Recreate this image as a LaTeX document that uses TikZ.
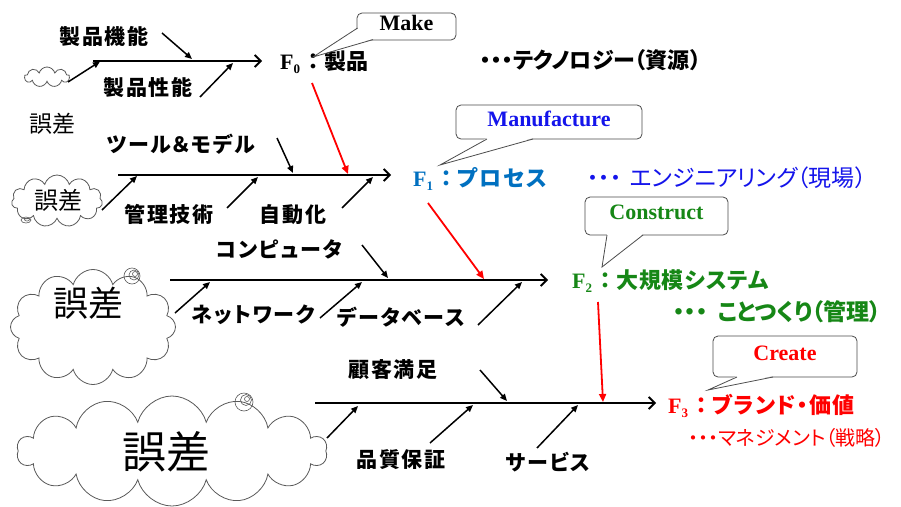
\documentclass[tikz,border=0pt]{standalone}
\usepackage{fontspec}
\setmainfont{Liberation Serif}
\newfontfamily\jp[RawFeature=+palt]{Noto Sans CJK JP}
\newfontfamily\jpn{Noto Sans CJK JP}
\usetikzlibrary{arrows.meta,shapes.symbols}
\definecolor{fblue}{RGB}{0,112,192}
\definecolor{dblue}{RGB}{20,20,235}
\definecolor{fgreen}{RGB}{22,135,22}
\definecolor{fred}{RGB}{255,0,0}
\definecolor{cloudgray}{RGB}{90,90,90}
\tikzset{
  spine/.style={line width=1.8pt,-{Straight Barb[length=6pt,width=12pt,line width=1.8pt]}},
  bone/.style={line width=1.5pt,-{Triangle[length=7pt,width=6pt]}},
  redarr/.style={draw=fred,line width=1.8pt,-{Triangle[length=8pt,width=7pt]}},
  lbl/.style={anchor=base,inner sep=0pt,font=\jp\bfseries\fontsize{21}{21}\selectfont\addfontfeature{LetterSpace=8}},
  flbl/.style={anchor=base west,inner sep=0pt,font=\fontsize{22}{22}\selectfont},
  dots/.style={anchor=base west,inner sep=0pt,font=\jp\fontsize{23}{23}\selectfont},
  cloudtxt/.style={anchor=base,inner sep=0pt},
  cloudshape/.style={cloud,draw=cloudgray,line width=0.8pt,cloud ignores aspect,inner sep=0pt},
  callbox/.style={draw=black!70,line width=0.8pt,rounded corners=5pt,fill=white,inner sep=0pt,
     font=\bfseries\fontsize{22}{22}\selectfont,text depth=7pt},
  tail/.style={draw=black!70,line width=0.8pt},
}
\newcommand{\Fsub}[1]{\textbf{F}{\fontsize{13}{13}\selectfont\raisebox{-4.5pt}{\textbf{#1}}}\hspace{2pt}}
\begin{document}
\begin{tikzpicture}[x=1pt,y=-1pt]
\useasboundingbox[fill=white] (0,0) rectangle (901,506);

% ---------------- clouds ----------------
\node[cloudshape,cloud puffs=9,minimum width=45pt,minimum height=20pt] (c0) at (47,77) {};
\node[cloudtxt,font=\jp\fontsize{23}{23}\selectfont] (e0) at (52,132) {誤差};
\node[cloudshape,cloud puffs=11,minimum width=91pt,minimum height=52pt] (c1) at (57,201) {};
\node[cloudtxt,font=\jp\fontsize{24}{24}\selectfont] (e1) at (58,209) {誤差};
\draw[cloudgray,line width=0.6pt] (26,220) ellipse (5pt and 3pt);
\draw[cloudgray,line width=0.6pt] (27,219.5) ellipse (2.5pt and 1.5pt);
\node[cloudshape,cloud puffs=12,minimum width=165pt,minimum height=115pt] (c2) at (93,327) {};
\node[cloudtxt,font=\jp\fontsize{35}{35}\selectfont] (e2) at (88,316) {誤差};
\draw[cloudgray,line width=0.6pt] (132,276) circle (8pt);
\draw[cloudgray,line width=0.6pt] (134,275) circle (5pt);
\draw[cloudgray,line width=0.6pt] (135,274) circle (2.5pt);
\node[cloudshape,cloud puffs=14,minimum width=310pt,minimum height=110pt] (c3) at (172,451) {};
\node[cloudtxt,font=\jp\fontsize{44}{44}\selectfont] (e3) at (166,468) {誤差};
\draw[cloudgray,line width=0.6pt] (244,402) circle (9pt);
\draw[cloudgray,line width=0.6pt] (246,400) circle (5.5pt);
\draw[cloudgray,line width=0.6pt] (247,399) circle (2.5pt);

% ---------------- coordinates ----------------
\coordinate (s0a) at (93,61);   \coordinate (s0b) at (262,61);
\coordinate (b00a) at (68,82);  \coordinate (b00b) at (100,61.5);
\coordinate (b01a) at (162,33); \coordinate (b01b) at (192,59);
\coordinate (b02a) at (200,97); \coordinate (b02b) at (233,63);

\coordinate (s1a) at (118,175); \coordinate (s1b) at (391,175);
\coordinate (b10a) at (102,210);\coordinate (b10b) at (137,176);
\coordinate (b11a) at (277,138);\coordinate (b11b) at (293,173);
\coordinate (b12a) at (227,208);\coordinate (b12b) at (258,177);
\coordinate (b13a) at (342,208);\coordinate (b13b) at (373,177);

\coordinate (s2a) at (170,280); \coordinate (s2b) at (548,280);
\coordinate (b20a) at (175,313);\coordinate (b20b) at (210,282);
\coordinate (b21a) at (362,245);\coordinate (b21b) at (388,278);
\coordinate (b22a) at (320,318);\coordinate (b22b) at (362,282);
\coordinate (b23a) at (478,325);\coordinate (b23b) at (522,282);

\coordinate (s3a) at (315,403); \coordinate (s3b) at (656,403);
\coordinate (b30a) at (327,438);\coordinate (b30b) at (358,406);
\coordinate (b31a) at (480,370);\coordinate (b31b) at (507,401);
\coordinate (b32a) at (430,443);\coordinate (b32b) at (473,405);
\coordinate (b33a) at (537,448);\coordinate (b33b) at (578,405);

\coordinate (r0a) at (312,83);  \coordinate (r0b) at (348,174);
\coordinate (r1a) at (428,203); \coordinate (r1b) at (484,279);
\coordinate (r2a) at (598,302); \coordinate (r2b) at (603,402);

% ---------------- spines and bones ----------------
\draw[spine] (s0a) -- (s0b);
\draw[bone] (b00a) -- (b00b);
\draw[bone] (b01a) -- (b01b);
\draw[bone] (b02a) -- (b02b);

\draw[spine] (s1a) -- (s1b);
\draw[bone] (b10a) -- (b10b);
\draw[bone] (b11a) -- (b11b);
\draw[bone] (b12a) -- (b12b);
\draw[bone] (b13a) -- (b13b);

\draw[spine] (s2a) -- (s2b);
\draw[bone] (b20a) -- (b20b);
\draw[bone] (b21a) -- (b21b);
\draw[bone] (b22a) -- (b22b);
\draw[bone] (b23a) -- (b23b);

\draw[spine] (s3a) -- (s3b);
\draw[bone] (b30a) -- (b30b);
\draw[bone] (b31a) -- (b31b);
\draw[bone] (b32a) -- (b32b);
\draw[bone] (b33a) -- (b33b);

\draw[redarr] (r0a) -- (r0b);
\draw[redarr] (r1a) -- (r1b);
\draw[redarr] (r2a) -- (r2b);

% ---------------- bone labels ----------------
\node[lbl] (l01) at (104,44) {製品機能};
\node[lbl] (l02) at (148,95) {製品性能};
\node[lbl] (l11) at (181,152) {ツール＆モデル};
\node[lbl] (l12) at (169,222) {管理技術};
\node[lbl] (l13) at (293,222) {自動化};
\node[lbl] (l21) at (279,257) {コンピュータ};
\node[lbl] (l22) at (253,322) {ネットワーク};
\node[lbl] (l23) at (401,325) {データベース};
\node[lbl] (l31) at (393,377) {顧客満足};
\node[lbl] (l32) at (401,467) {品質保証};
\node[lbl] (l33) at (548,470) {サービス};

% ---------------- heads ----------------
\node[flbl] (f0) at (280,69) {\Fsub{0}{\jpn\bfseries ：}{\jp\bfseries 製品}};
\node[flbl,text=fblue] (f1) at (413,186) {\Fsub{1}{\jpn\bfseries ：}{\jp\bfseries\addfontfeature{LetterSpace=8}プロセス}};
\node[flbl,text=fgreen] (f2) at (572,288) {\Fsub{2}{\jpn\bfseries ：}{\jp\bfseries\addfontfeature{LetterSpace=4}大規模システム}};
\node[flbl,text=fred] (f3) at (668,413) {\Fsub{3}{\jpn\bfseries ：}{\jp\bfseries\addfontfeature{LetterSpace=6}ブランド・価値}};

\node[dots,font=\jp\bfseries\fontsize{22}{22}\selectfont] (d0) at (480,68) {・・・テクノロジー（資源）};
\node[dots,text=dblue] (d1) at (587,186) {・・・\hspace{8pt}エンジニアリング（現場）};
\node[dots,text=fgreen,font=\jp\bfseries\fontsize{23}{23}\selectfont] (d2) at (673,320) {・・・\hspace{10pt}ことつくり（管理）};
\node[dots,text=fred,font=\jp\fontsize{20}{20}\selectfont] (d3) at (688,445) {・・・マネジメント（戦略）};

% ---------------- callouts ----------------
\node[callbox,minimum width=99pt,minimum height=27pt] (cm) at (406.5,26.5) {Make};
\fill[white] (358.5,28) -- (313,57) -- (373,38.8) -- (373,30) -- cycle;
\draw[tail] (357.6,28) -- (313,57) -- (373,39.6);

\node[callbox,minimum width=186pt,minimum height=34pt,text=dblue] (cf) at (549,122) {Manufacture};
\fill[white] (487,138) -- (440,165) -- (533,138) -- cycle;
\draw[tail] (487,139) -- (440,165) -- (533,139);

\node[callbox,minimum width=143pt,minimum height=38pt,text=fgreen] (cc) at (656.5,216) {Construct};
\fill[white] (607,234) -- (602,267) -- (643,234) -- cycle;
\draw[tail] (607,235) -- (602,267) -- (643,235);

\node[callbox,minimum width=144pt,minimum height=41pt,text=fred] (cr) at (785,356.5) {Create};
\fill[white] (737,376) -- (708,390) -- (773,376) -- cycle;
\draw[tail] (737,377) -- (708,390) -- (773,377);
\end{tikzpicture}
\end{document}
